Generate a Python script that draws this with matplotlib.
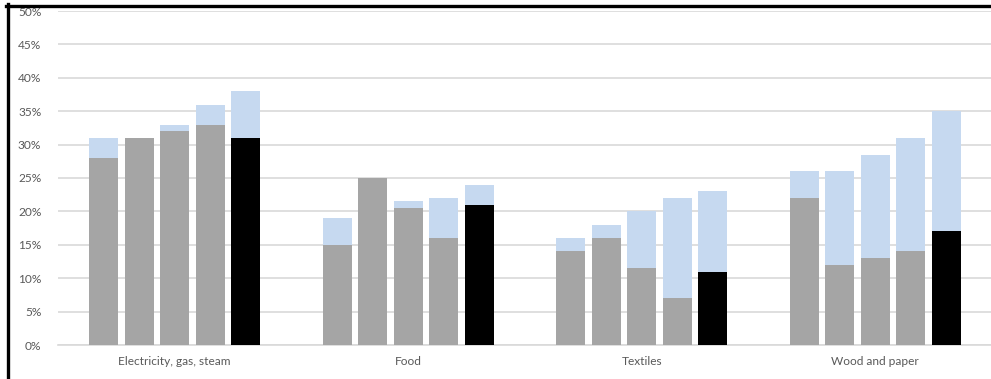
import numpy as np
import matplotlib
matplotlib.use('agg')
import matplotlib.pyplot as plt
from matplotlib.lines import Line2D

categories = ["Electricity, gas, steam", "Food", "Textiles", "Wood and paper"]

# base (grey / black) values per bar, 5 bars per category, in %
base = [
    [28, 31, 32, 33, 31],
    [15, 25, 20.5, 16, 21],
    [14, 16, 11.5, 7, 11],
    [22, 12, 13, 14, 17],
]
# total height (base + light blue part), in %
total = [
    [31, 31, 33, 36, 38],
    [19, 25, 21.5, 22, 24],
    [16, 18, 20, 22, 23],
    [26, 26, 28.5, 31, 35],
]
yticks = [0, 5, 10, 15, 20, 25, 30, 35, 40, 45, 50]

plt.rcParams['font.family'] = ['Lato', 'DejaVu Sans']

fig = plt.figure(figsize=(9.91, 3.79), dpi=100)
ax = fig.add_axes([58/991, 34/379, 934/991, 334/379])

base = np.array(base, dtype=float)
total = np.array(total, dtype=float)
n = base.shape[1]
pitch = 35.6/233.7
width = 29/233.7
x = np.arange(len(categories))

for i in range(n):
    pos = x + (i - (n-1)/2)*pitch
    col = 'black' if i == n-1 else '#A5A5A5'
    ax.bar(pos, base[:, i], width=width, color=col, zorder=3)
    ax.bar(pos, total[:, i]-base[:, i], bottom=base[:, i], width=width,
           color='#C6D9F0', zorder=3)

ax.set_ylim(0, 50)
ax.set_xlim(-0.5, 3.5)
ax.set_yticks(yticks)
ax.set_yticklabels([f"{t}%" for t in yticks])
ax.set_xticks(x)
ax.set_xticklabels(categories)
ax.yaxis.grid(True, color='#D9D9D9', linewidth=1.2, zorder=0)
for s in ['top', 'right', 'left']:
    ax.spines[s].set_visible(False)
ax.spines['bottom'].set_color('#D9D9D9')
ax.spines['bottom'].set_linewidth(1.2)
ax.tick_params(axis='both', length=0, colors='#595959', labelsize=8.6)
ax.tick_params(axis='y', pad=12)
ax.tick_params(axis='x', pad=8)

# black frame on top and left
fig.add_artist(Line2D([6/991, 1], [1-5.5/379, 1-5.5/379], color='black', linewidth=2.4,
                      transform=fig.transFigure))
fig.add_artist(Line2D([7.5/991, 7.5/991], [0, 1-4/379], color='black', linewidth=2.4,
                      transform=fig.transFigure))

fig.savefig('out.png', dpi=100)
